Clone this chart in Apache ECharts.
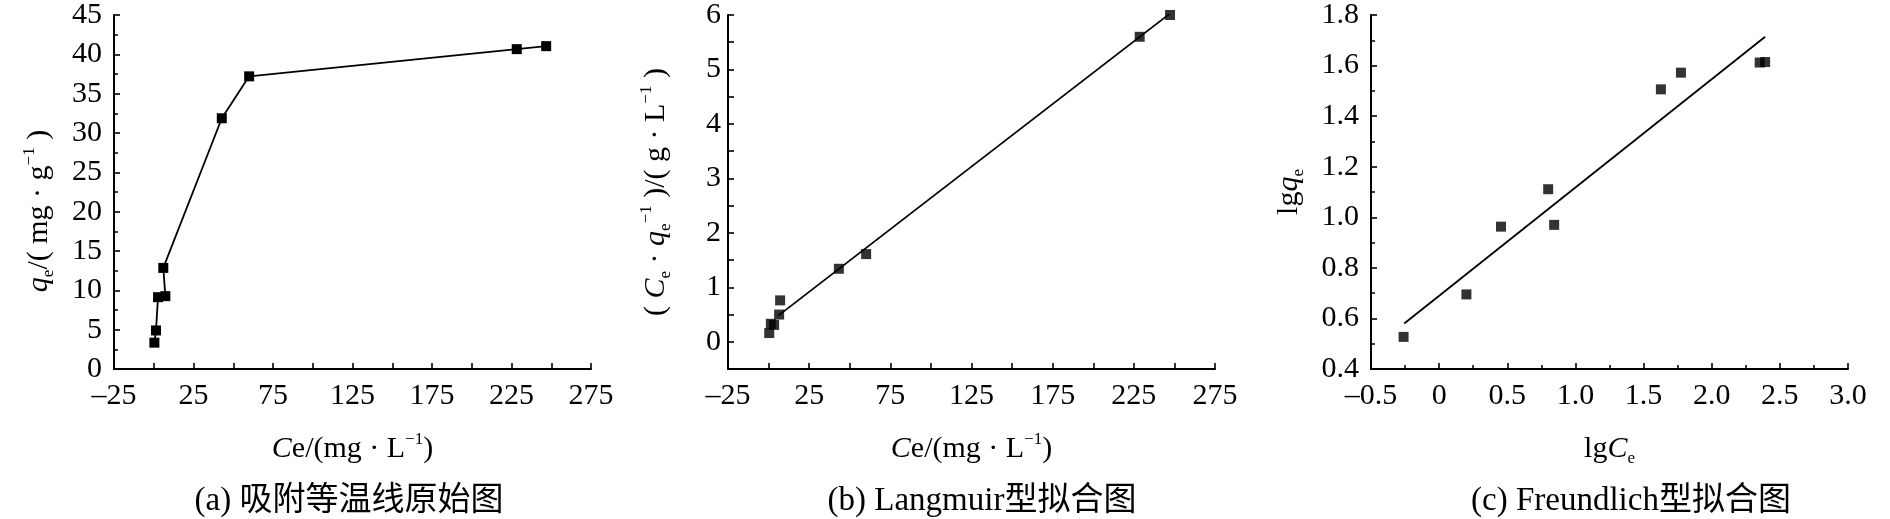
<!DOCTYPE html>
<html><head><meta charset="utf-8">
<script src="https://cdn.jsdelivr.net/npm/echarts@6/dist/echarts.min.js"></script>
<style>html,body{margin:0;padding:0;background:#fff}#c{width:1890px;height:519px}</style>
</head><body><div id="c"></div>
<script>
// (a) adsorption isotherm raw data
const ceA = [0.4, 1.4, 2.7, 7.3, 6.0, 42.8, 60.0, 228.3, 246.8];
const qeA = [3.35, 4.9, 9.13, 9.26, 12.85, 31.87, 37.2, 40.66, 41.04];
// (b) Langmuir plot
const ceB = [0.4, 1.4, 3.4, 6.5, 7.1, 43.3, 60.1, 228.6, 247.3];
const ratioB = [0.16, 0.33, 0.31, 0.50, 0.76, 1.34, 1.61, 5.60, 6.00];
const langFitX = [6.0, 247.0];
const langFitY = [0.48, 6.02];
// (c) Freundlich plot
const lgCe = [-0.261, 0.200, 0.454, 0.800, 0.844, 1.627, 1.774, 2.352, 2.392];
const lgQe = [0.527, 0.695, 0.963, 1.111, 0.970, 1.506, 1.572, 1.612, 1.614];
const freFitX = [-0.256, 2.392];
const freFitY = [0.580, 1.714];
// axis ranges [min, max, interval]
const xRangeCe = [-25, 275, 50];
const yRangeQe = [0, 45, 5];
const yRangeRatio = [-0.5, 6, 0.5];
const xRangeLg = [-0.5, 3.0, 0.5];
const yRangeLg = [0.4, 1.8, 0.2];
// texts
const captions = ['(a) 吸附等温线原始图', '(b) Langmuir型拟合图', '(c) Freundlich型拟合图'];
const nameCe = '{i|C}{n|e/(mg · L}{sup|−1}{n|)}';
const nameLgCe = '{n|lg}{i|C}{sub|e}';
const nameQe = '{i|q}{sub|e}{n|/( mg · g}{sup|−1}{n| )}';
const nameRatio = '{n|( }{i|C}{sub|e}{n| · }{i|q}{sub|e}{sup|−1}{n| )/( g · L}{sup|−1}{n| )}';
const nameLgQe = '{n|lg}{i|q}{sub|e}';

const SERIF = "'Liberation Serif','Noto Sans CJK SC',serif";
const BLACK = '#000';
const NAME_FS = 30;
const rich = {
  i: {fontStyle: 'italic', fontFamily: SERIF, fontSize: NAME_FS, color: BLACK, lineHeight: 36},
  n: {fontFamily: SERIF, fontSize: NAME_FS, color: BLACK, lineHeight: 36},
  sub: {fontFamily: SERIF, fontSize: 17, color: BLACK, verticalAlign: 'bottom', lineHeight: 36},
  sup: {fontFamily: SERIF, fontSize: 17, color: BLACK, verticalAlign: 'top', lineHeight: 36}
};
function dash(v){ return v < 0 ? '\u2013' + Math.abs(v) : String(v); }

function axis(kind, grid, range, fmt, name, nameGap, labelMargin, extra) {
  const a = {
    type: 'value', gridIndex: grid, min: range[0], max: range[1], interval: range[2],
    axisLine: {show: true, onZero: false, lineStyle: {color: BLACK, width: 2}},
    axisTick: {show: true, inside: true, length: 6, lineStyle: {color: BLACK, width: 1.6}},
    minorTick: {show: false},
    splitLine: {show: false},
    axisLabel: {color: BLACK, fontFamily: SERIF, fontSize: 30, margin: labelMargin,
      formatter: fmt, showMinLabel: true, showMaxLabel: true, hideOverlap: false},
    name: name, nameLocation: 'middle', nameGap: nameGap,
    nameTextStyle: {fontFamily: SERIF, fontSize: NAME_FS, color: BLACK, lineHeight: 36, rich: rich}
  };
  if (kind === 'y') a.nameRotate = 90;
  return Object.assign(a, extra || {});
}
const minor2 = {minorTick: {show: true, splitNumber: 2, length: 4, lineStyle: {color: BLACK, width: 1.5}}};
const minor2long = {minorTick: {show: true, splitNumber: 2, length: 6, lineStyle: {color: BLACK, width: 1.6}}};

const chart = echarts.init(document.getElementById('c'), null, {renderer: 'canvas'});
const markerStyle = {color: BLACK};
const lineSt = {color: BLACK, width: 1.8};
chart.setOption({
  animation: false,
  backgroundColor: '#fff',
  grid: [
    {left: 114, right: 1299, top: 11, bottom: 150},
    {left: 728, right: 675, top: 11, bottom: 150},
    {left: 1371, right: 42, top: 13, bottom: 150}
  ],
  xAxis: [
    axis('x', 0, xRangeCe, dash, nameCe, 62, 12, minor2long),
    axis('x', 1, xRangeCe, dash, nameCe, 62, 12, minor2long),
    axis('x', 2, xRangeLg, v => v === 0 ? '0' : (v < 0 ? '\u2013' : '') + Math.abs(v).toFixed(1), nameLgCe, 62, 12, minor2)
  ],
  yAxis: [
    axis('y', 0, yRangeQe, v => String(v), nameQe, 57, 12, minor2),
    axis('y', 1, yRangeRatio, v => Number.isInteger(v) ? String(v) : '', nameRatio, 54, 7),
    axis('y', 2, yRangeLg, v => v.toFixed(1), nameLgQe, 64, 12, minor2)
  ],
  series: [
    {type: 'line', xAxisIndex: 0, yAxisIndex: 0, data: ceA.map((x, i) => [x, qeA[i]]),
      symbol: 'rect', symbolSize: 10, itemStyle: markerStyle, lineStyle: lineSt},
    {type: 'line', xAxisIndex: 1, yAxisIndex: 1, data: langFitX.map((x, i) => [x, langFitY[i]]),
      symbol: 'none', lineStyle: lineSt},
    {type: 'scatter', xAxisIndex: 1, yAxisIndex: 1, data: ceB.map((x, i) => [x, ratioB[i]]),
      symbol: 'rect', symbolSize: 10, itemStyle: markerStyle},
    {type: 'line', xAxisIndex: 2, yAxisIndex: 2, data: freFitX.map((x, i) => [x, freFitY[i]]),
      symbol: 'none', lineStyle: lineSt},
    {type: 'scatter', xAxisIndex: 2, yAxisIndex: 2, data: lgCe.map((x, i) => [x, lgQe[i]]),
      symbol: 'rect', symbolSize: 10, itemStyle: markerStyle}
  ],
  graphic: [349, 982, 1631].map((cx, k) => ({
    type: 'text', x: cx, y: 501,
    style: {text: captions[k], fontFamily: SERIF, fontSize: 33, fill: BLACK,
      align: 'center', verticalAlign: 'middle', textAlign: 'center', textVerticalAlign: 'middle'}
  }))
});
// shift (a) y-axis title slightly downward like the reference
chart.setOption({yAxis: [{nameTextStyle: {padding: [0, 38, 0, 0]}}, {}, {}]});
</script></body></html>
